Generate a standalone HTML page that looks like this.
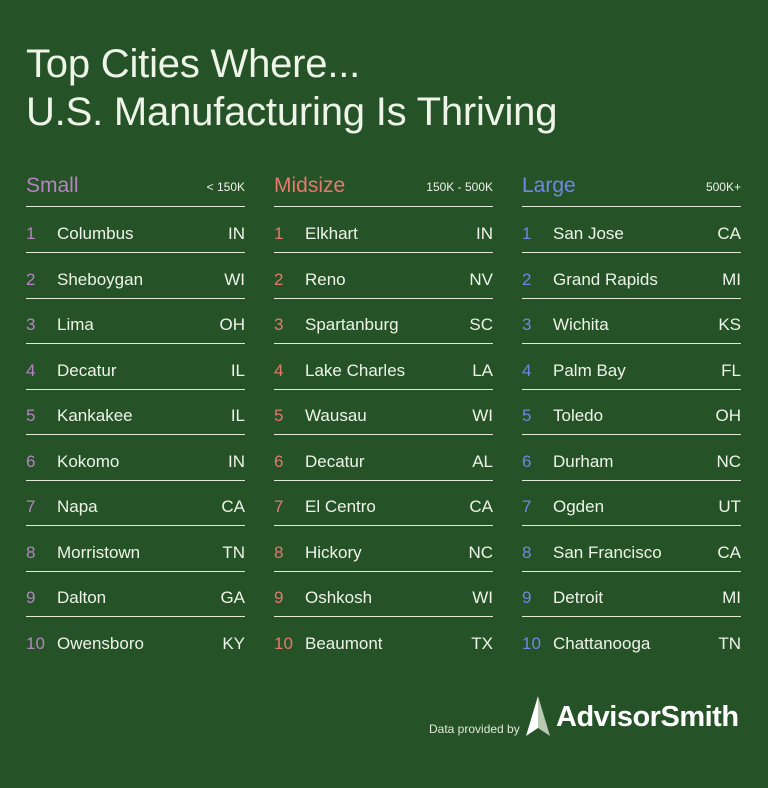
<!DOCTYPE html>
<html><head><meta charset="utf-8"><style>
body{margin:0;width:768px;height:788px;background:#255227;font-family:"Liberation Sans","DejaVu Sans",sans-serif;color:#eef4e8;position:relative;overflow:hidden}
.t{position:absolute;left:26px;font-size:40px;line-height:48px;letter-spacing:-0.2px}
.col{position:absolute;top:0;width:219px;height:788px}
.hd{position:absolute;left:0;right:0;top:171px;height:35px;border-bottom:1.5px solid #dfe9d6}
.hd .n{position:absolute;left:0;top:3px;font-size:21px}
.hd .r{position:absolute;right:0;top:9px;font-size:12px}
.row{position:absolute;left:0;right:0;height:44px;border-bottom:1.5px solid #dfe9d6;font-size:17px}
.row.last{border-bottom:none}
.row span{position:absolute;top:16px}
.row .k{left:0}.row .c{left:31px}.row .s{right:0}
</style></head><body>
<div class="t" style="top:40px">Top Cities Where...</div>
<div class="t" style="top:88px">U.S. Manufacturing Is Thriving</div>
<div id="cols"></div>
<div style="position:absolute;left:429px;top:722px;font-size:12px;color:#dfe9d6">Data provided by</div>
<svg style="position:absolute;left:524px;top:696px" width="28" height="42"><polygon points="14,0 2,40 14,32" fill="#fff"/><polygon points="14,0 26,40 14,32" fill="#b9c9b3"/></svg>
<div style="position:absolute;left:556px;top:701px;font-size:29px;font-weight:bold;color:#fff;letter-spacing:-0.5px">AdvisorSmith</div>
<script>
const groups=["Small","Midsize","Large"];
const ranges=["< 150K","150K - 500K","500K+"];
const colors=["#b585c2","#e57a6c","#7088e4"];
const small=[["Columbus","IN"],["Sheboygan","WI"],["Lima","OH"],["Decatur","IL"],["Kankakee","IL"],["Kokomo","IN"],["Napa","CA"],["Morristown","TN"],["Dalton","GA"],["Owensboro","KY"]];
const mid=[["Elkhart","IN"],["Reno","NV"],["Spartanburg","SC"],["Lake Charles","LA"],["Wausau","WI"],["Decatur","AL"],["El Centro","CA"],["Hickory","NC"],["Oshkosh","WI"],["Beaumont","TX"]];
const large=[["San Jose","CA"],["Grand Rapids","MI"],["Wichita","KS"],["Palm Bay","FL"],["Toledo","OH"],["Durham","NC"],["Ogden","UT"],["San Francisco","CA"],["Detroit","MI"],["Chattanooga","TN"]];
const lists=[small,mid,large];
const root=document.getElementById('cols');
lists.forEach((list,g)=>{
 const col=document.createElement('div');col.className='col';col.style.left=(26+g*248)+'px';
 
 
 const hd=document.createElement('div');hd.className='hd';
 
 
 hd.innerHTML='<span class="n" style="color:'+colors[g]+'">'+groups[g]+'</span><span class="r">'+ranges[g].replace('<','&lt;')+'</span>';
 col.appendChild(hd);
 list.forEach((r,i)=>{
  const row=document.createElement('div');row.className='row'+(i==list.length-1?' last':'');
  row.style.top=(208+i*45.55)+'px';
  
  
  row.innerHTML='<span class="k" style="color:'+colors[g]+'">'+(i+1)+'</span><span class="c">'+r[0]+'</span><span class="s">'+r[1]+'</span>';
  col.appendChild(row);
 });
 root.appendChild(col);
});
</script>
</body></html>
